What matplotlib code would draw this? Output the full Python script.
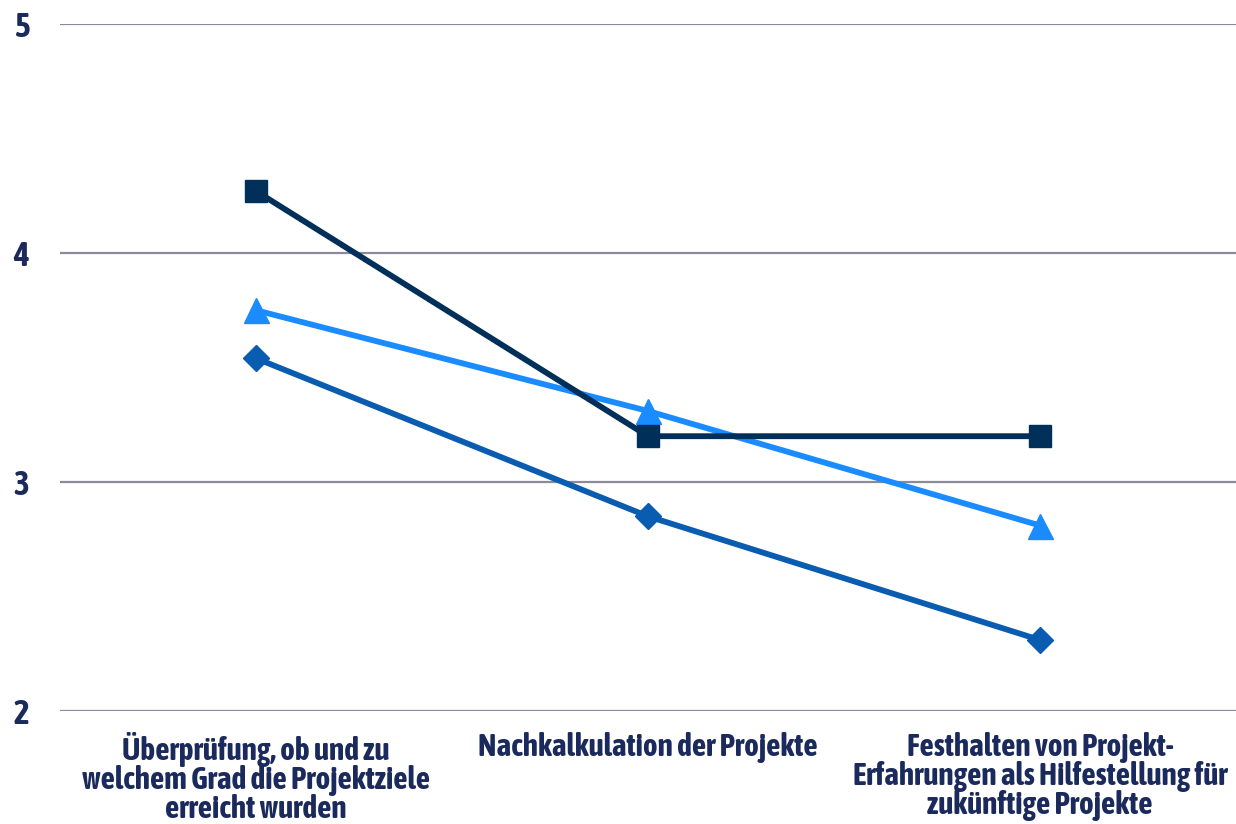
import matplotlib.pyplot as plt
from matplotlib import font_manager

categories = [
    "Überprüfung, ob und zu\nwelchem Grad die Projektziele\nerreicht wurden",
    "Nachkalkulation der Projekte",
    "Festhalten von Projekt-\nErfahrungen als Hilfestellung für\nzukünftige Projekte",
]
series_square = [4.27, 3.20, 3.20]
series_triangle = [3.75, 3.31, 2.81]
series_diamond = [3.54, 2.85, 2.31]
y_ticks = [2, 3, 4, 5]

# look for a narrow face that has a bold weight, otherwise Liberation Sans
narrow_bold = sorted({f.name for f in font_manager.fontManager.ttflist
                      if ('Narrow' in f.name or 'Condensed' in f.name)
                      and (f.weight in ('bold', 'heavy', 'black', 'semibold', 'demibold')
                           or (isinstance(f.weight, int) and f.weight >= 600))})
if narrow_bold:
    family = narrow_bold[0]
    lab_size = 22.5
else:
    family = 'Liberation Sans'
    lab_size = 16
plt.rcParams['font.family'] = [family, 'DejaVu Sans']
text_color = '#1B2A5C'

fig = plt.figure(figsize=(12.36, 8.24), dpi=100)
ax = fig.add_axes([60 / 1236, 113 / 824, 1176 / 1236, 687 / 824])

x = range(len(categories))
ax.plot(x, series_diamond, color='#0A5CB0', lw=4.2, marker='D', markersize=13, zorder=3)
ax.plot(x, series_triangle, color='#1A8CFF', lw=4.2, marker='^', markersize=18, zorder=4)
ax.plot(x, series_square, color='#002F5A', lw=4.2, marker='s', markersize=16, zorder=5)

ax.set_xlim(-0.5, 2.5)
ax.set_ylim(2, 5)
ax.set_yticks(y_ticks)
ax.set_yticklabels([str(t) for t in y_ticks], fontsize=24, fontweight='bold', color=text_color)
ax.set_xticks(list(x))
ax.set_xticklabels(categories, fontsize=lab_size, fontweight='bold', color=text_color, linespacing=0.93)
ax.tick_params(axis='both', length=0)
ax.tick_params(axis='y', pad=22)
ax.tick_params(axis='x', pad=15)
ax.grid(axis='y', color='#8A8A9A', lw=1.6)
ax.set_axisbelow(True)
for s in ax.spines.values():
    s.set_visible(False)

fig.savefig('out.png', dpi=100)
